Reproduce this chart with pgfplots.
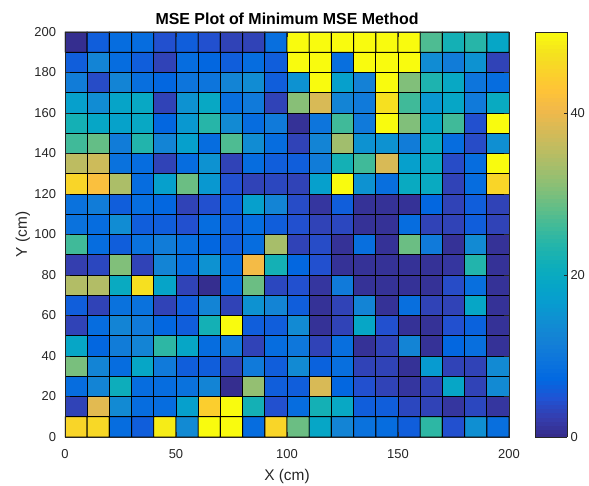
\documentclass[border=0pt]{standalone}
\usepackage{fontspec}
\setmainfont{Liberation Sans}
\usepackage{pgfplots}
\pgfplotsset{compat=1.18}
\definecolor{axgray}{RGB}{38,38,38}
\pgfplotsset{colormap={parula}{
rgb=(0.2081,0.1663,0.5292) rgb=(0.2081,0.2386,0.6771) rgb=(0.1253,0.3242,0.8303)
rgb=(0.0060,0.4086,0.8828) rgb=(0.0498,0.4586,0.8641) rgb=(0.0779,0.5040,0.8384)
rgb=(0.0641,0.5570,0.8240) rgb=(0.0265,0.6137,0.8135) rgb=(0.0228,0.6535,0.7768)
rgb=(0.0590,0.6838,0.7254) rgb=(0.1453,0.7098,0.6646) rgb=(0.2586,0.7317,0.5954)
rgb=(0.3952,0.7459,0.5244) rgb=(0.5300,0.7491,0.4661) rgb=(0.6473,0.7456,0.4188)
rgb=(0.7525,0.7384,0.3768) rgb=(0.8507,0.7299,0.3360) rgb=(0.9450,0.7261,0.2886)
rgb=(0.9990,0.7653,0.2164) rgb=(0.9789,0.8271,0.1633) rgb=(0.9589,0.8949,0.1132)
rgb=(0.9763,0.9831,0.0538)}}
\begin{document}
\begin{tikzpicture}
\useasboundingbox (-65bp,-49bp) rectangle (524bp,437bp);
\begin{axis}[
  scale only axis, width=444bp, height=405bp,
  xmin=0, xmax=200, ymin=0, ymax=200,
  xtick={0,50,100,150,200}, ytick={0,20,...,200},
  tick align=inside, major tick length=5bp,
  axis on top,
  axis line style={axgray}, tick style={axgray, line width=0.5bp},
  ticklabel style={font=\fontsize{13}{13}\selectfont, text=axgray},
  /pgf/number format/assume math mode=true,
  xticklabel style={anchor=base, yshift=-21bp},
  yticklabel style={anchor=east, xshift=-5.5bp},
  xlabel={X (cm)}, ylabel={Y (cm)},
  label style={font=\fontsize{15.5}{15.5}\selectfont, text=axgray},
  xlabel style={at={(axis description cs:0.5,-0.1086)}, anchor=base},
  ylabel style={at={(axis description cs:-0.0856,0.5)}, anchor=base},
  title={MSE Plot of Minimum MSE Method},
  title style={font=\bfseries\fontsize{16}{16}\selectfont, at={(axis description cs:0.5,1.0173)}, anchor=base, yshift=-6pt},
  colormap name=parula,
  point meta min=0, point meta max=50,
  colorbar sampled,
  colorbar style={at={(parent axis.north east)}, anchor=north west, xshift=17.5bp,
    samples=101,
    scale only axis, width=32bp, height=405bp,
    xmin=0, xmax=1, ymin=0, ymax=50,
    ytick={0,20,40}, ytick pos=right, yticklabel pos=right,
    tick align=inside, major tick length=3bp,
    /pgf/number format/assume math mode=true,
    ticklabel style={font=\fontsize{13}{13}\selectfont, text=axgray},
    yticklabel style={anchor=west, xshift=0bp},
    axis line style={axgray}, tick style={axgray, line width=0.5bp}},
]
\addplot[matrix plot*, mesh/cols=20, point meta=explicit, draw=black, line width=0.9bp] coordinates {
(5,5)[45.5] (15,5)[46] (25,5)[8] (35,5)[6] (45,5)[48.5] (55,5)[13.5] (65,5)[50] (75,5)[50] (85,5)[8] (95,5)[45.5] (105,5)[29] (115,5)[19] (125,5)[12.5] (135,5)[9] (145,5)[8] (155,5)[6] (165,5)[24.5] (175,5)[4.5] (185,5)[14.5] (195,5)[8.5]
(5,15)[3] (15,15)[39] (25,15)[13.5] (35,15)[8] (45,15)[8] (55,15)[17.5] (65,15)[44.5] (75,15)[50] (85,15)[22] (95,15)[4.5] (105,15)[8] (115,15)[22] (125,15)[19.5] (135,15)[6] (145,15)[6] (155,15)[3.5] (165,15)[3] (175,15)[1.5] (185,15)[3.5] (195,15)[1.5]
(5,25)[8] (15,25)[12.5] (25,25)[21] (35,25)[8] (45,25)[8] (55,25)[9] (65,25)[12.5] (75,25)[0.5] (85,25)[32] (95,25)[6] (105,25)[6] (115,25)[38] (125,25)[7] (135,25)[4.5] (145,25)[3] (155,25)[1.5] (165,25)[3] (175,25)[19] (185,25)[3] (195,25)[13.5]
(5,35)[30] (15,35)[12.5] (25,35)[8] (35,35)[19] (45,35)[10.5] (55,35)[6] (65,35)[6] (75,35)[3] (85,35)[10.5] (95,35)[6] (105,35)[13.5] (115,35)[6.5] (125,35)[8.5] (135,35)[3] (145,35)[3] (155,35)[1] (165,35)[16.5] (175,35)[3] (185,35)[3] (195,35)[13.5]
(5,45)[19] (15,45)[7] (25,45)[11] (35,45)[12.5] (45,45)[24.5] (55,45)[19] (65,45)[8] (75,45)[10.5] (85,45)[3] (95,45)[8] (105,45)[10] (115,45)[3] (125,45)[8.5] (135,45)[1] (145,45)[3] (155,45)[12.5] (165,45)[1] (175,45)[7] (185,45)[8.5] (195,45)[1]
(5,55)[3] (15,55)[8] (25,55)[12.5] (35,55)[10.5] (45,55)[7] (55,55)[6] (65,55)[22] (75,55)[50] (85,55)[6] (95,55)[6] (105,55)[13.5] (115,55)[1] (125,55)[3] (135,55)[19] (145,55)[4.5] (155,55)[1] (165,55)[1] (175,55)[4.5] (185,55)[6.5] (195,55)[1]
(5,65)[6] (15,65)[3] (25,65)[9] (35,65)[9] (45,65)[3] (55,65)[6] (65,65)[12.5] (75,65)[3] (85,65)[15] (95,65)[12.5] (105,65)[6] (115,65)[1] (125,65)[3] (135,65)[12.5] (145,65)[1] (155,65)[8.5] (165,65)[3] (175,65)[3] (185,65)[19] (195,65)[1]
(5,75)[34.5] (15,75)[34.5] (25,75)[20] (35,75)[47] (45,75)[18.5] (55,75)[3] (65,75)[0.5] (75,75)[8] (85,75)[29] (95,75)[3.5] (105,75)[4.5] (115,75)[1.5] (125,75)[10.5] (135,75)[1] (145,75)[1] (155,75)[1] (165,75)[1] (175,75)[4] (185,75)[8.5] (195,75)[1]
(5,85)[2.5] (15,85)[3.5] (25,85)[30.5] (35,85)[3] (45,85)[12.5] (55,85)[8.5] (65,85)[15] (75,85)[8] (85,85)[41] (95,85)[22] (105,85)[7] (115,85)[4.5] (125,85)[1] (135,85)[1] (145,85)[1] (155,85)[1] (165,85)[1] (175,85)[1.5] (185,85)[23.5] (195,85)[1]
(5,95)[26] (15,95)[8] (25,95)[6] (35,95)[9] (45,95)[11] (55,95)[8.5] (65,95)[7] (75,95)[6] (85,95)[8] (95,95)[33.5] (105,95)[3] (115,95)[4] (125,95)[1] (135,95)[8.5] (145,95)[1] (155,95)[29] (165,95)[10.5] (175,95)[1] (185,95)[13.5] (195,95)[1]
(5,105)[9] (15,105)[8] (25,105)[14] (35,105)[6] (45,105)[6] (55,105)[4.5] (65,105)[8] (75,105)[6] (85,105)[8] (95,105)[6] (105,105)[4.5] (115,105)[3] (125,105)[3.5] (135,105)[1] (145,105)[1] (155,105)[8] (165,105)[3] (175,105)[3] (185,105)[6] (195,105)[3]
(5,115)[9] (15,115)[11] (25,115)[6] (35,115)[8] (45,115)[7] (55,115)[3] (65,115)[4.5] (75,115)[6] (85,115)[17.5] (95,115)[12.5] (105,115)[4] (115,115)[1.5] (125,115)[6] (135,115)[1] (145,115)[1] (155,115)[1] (165,115)[7] (175,115)[3] (185,115)[6] (195,115)[3]
(5,125)[45.5] (15,125)[42] (25,125)[34] (35,125)[8] (45,125)[17.5] (55,125)[29] (65,125)[16] (75,125)[4.5] (85,125)[3] (95,125)[3.5] (105,125)[3] (115,125)[17.5] (125,125)[50] (135,125)[15] (145,125)[8.5] (155,125)[20] (165,125)[20] (175,125)[3] (185,125)[8] (195,125)[45.5]
(5,135)[35.5] (15,135)[37] (25,135)[9] (35,135)[8] (45,135)[3] (55,135)[8] (65,135)[15] (75,135)[3] (85,135)[8] (95,135)[6] (105,135)[6] (115,135)[11] (125,135)[22] (135,135)[26] (145,135)[38] (155,135)[17.5] (165,135)[20] (175,135)[4] (185,135)[8] (195,135)[50]
(5,145)[26] (15,145)[28.5] (25,145)[11] (35,145)[23.5] (45,145)[12.5] (55,145)[17.5] (65,145)[8] (75,145)[27] (85,145)[14] (95,145)[8] (105,145)[3] (115,145)[12.5] (125,145)[33] (135,145)[15] (145,145)[15] (155,145)[11] (165,145)[20] (175,145)[8] (185,145)[4] (195,145)[14.5]
(5,155)[22] (15,155)[19] (25,155)[18] (35,155)[19.5] (45,155)[7] (55,155)[16] (65,155)[24] (75,155)[13.5] (85,155)[8] (95,155)[10.5] (105,155)[1] (115,155)[9.5] (125,155)[26] (135,155)[10.5] (145,155)[50] (155,155)[30.5] (165,155)[18.5] (175,155)[26] (185,155)[4.5] (195,155)[50]
(5,165)[17.5] (15,165)[14] (25,165)[18.5] (35,165)[19.5] (45,165)[3] (55,165)[15] (65,165)[19.5] (75,165)[8.5] (85,165)[10.5] (95,165)[3] (105,165)[31] (115,165)[38] (125,165)[12.5] (135,165)[10.5] (145,165)[47] (155,165)[26] (165,165)[16] (175,165)[19] (185,165)[10.5] (195,165)[20]
(5,175)[11] (15,175)[4] (25,175)[12.5] (35,175)[8.5] (45,175)[7] (55,175)[9.5] (65,175)[9.5] (75,175)[12.5] (85,175)[14] (95,175)[6] (105,175)[15] (115,175)[50] (125,175)[17.5] (135,175)[12] (145,175)[50] (155,175)[30.5] (165,175)[23] (175,175)[19.5] (185,175)[9.5] (195,175)[8]
(5,185)[6] (15,185)[12.5] (25,185)[8] (35,185)[6] (45,185)[3] (55,185)[8] (65,185)[7] (75,185)[6] (85,185)[8] (95,185)[6] (105,185)[50] (115,185)[50] (125,185)[8.5] (135,185)[50] (145,185)[50] (155,185)[50] (165,185)[14] (175,185)[11] (185,185)[15] (195,185)[3]
(5,195)[0.5] (15,195)[6] (25,195)[8] (35,195)[8] (45,195)[4.5] (55,195)[6] (65,195)[4.5] (75,195)[3] (85,195)[3] (95,195)[8.5] (105,195)[50] (115,195)[50] (125,195)[50] (135,195)[50] (145,195)[50] (155,195)[50] (165,195)[27] (175,195)[22] (185,195)[24] (195,195)[19]
};
\end{axis}
\end{tikzpicture}
\end{document}
